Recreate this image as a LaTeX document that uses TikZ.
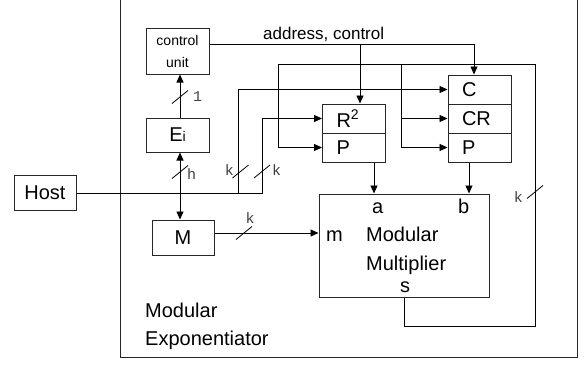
\documentclass[tikz,border=0pt]{standalone}
\usepackage{fontspec}
\setmainfont{Liberation Sans}
\newfontfamily\monof{Liberation Mono}
\usetikzlibrary{arrows.meta,calc}
\begin{document}
\begin{tikzpicture}[x=1pt,y=-1pt,
  box/.style={draw=black!85,line width=1pt,rectangle,inner sep=0pt,font=\fontsize{20}{23}\selectfont},
  stk/.style={box,minimum height=29pt,text width=35pt,inner xsep=14pt,align=left},
  frame/.style={draw=black!85,line width=1pt},
  ln/.style={line width=0.9pt},
  arr/.style={ln,-{Triangle[length=8pt,width=7pt]}},
  darr/.style={ln,{Triangle[length=8pt,width=7pt]}-{Triangle[length=8pt,width=7pt]}},
  lbl/.style={inner sep=0pt,anchor=base west,font=\fontsize{20}{23}\selectfont},
  bw/.style={font=\monof\fontsize{15}{17}\selectfont,text=black!75,inner sep=0pt},
  busmark/.pic={\draw[line width=0.8pt] (-8,6.5) -- (8,-6.5);}
]
\useasboundingbox (0,0) rectangle (584,365);
% outer frame
\draw[frame] (120,0) -- (120,357) -- (577,357) -- (577,0);

% blocks
\node[box,minimum width=62pt,minimum height=35pt] (host) at (45,193) {Host};
\node[box,minimum width=63pt,minimum height=46pt,align=center,font=\fontsize{14}{22}\selectfont] (cu) at (177.5,51) {control\\unit};
\node[box,minimum width=63pt,minimum height=34pt] (ei) at (177.5,135) {E{\fontsize{14}{16}\selectfont i}};
\node[box,minimum width=62pt,minimum height=35pt] (m) at (183,237.5) {M};
\node[stk] (r2) at (354,118.5) {R\textsuperscript{2}};
\node[stk] (p1) at (354,147.5) {P};
\node[stk] (c) at (479.5,89.5) {C};
\node[stk] (cr) at (479.5,118.5) {CR};
\node[stk] (p2) at (479.5,147.5) {P};
\node[box,minimum width=170pt,minimum height=103pt] (mm) at (404,245.5) {};
\node[lbl] (la) at (372,213) {a};
\node[lbl] (lb) at (458,213) {b};
\node[lbl] (lm) at (326,241) {m};
\node[lbl] (lmod) at (366,241) {Modular};
\node[lbl] (lmul) at (366,270) {Multiplier};
\node[lbl] (ls) at (400,292) {s};
\node[lbl] (t1l) at (145,317) {Modular};
\node[lbl] (t2l) at (145,345) {Exponentiator};

% coordinates
\coordinate (xv) at (180,0);
\coordinate (j1) at (238,193);
\coordinate (j2) at (262,193);
\coordinate (ac1) at (360,44);
\coordinate (ac2) at (474,44);
\coordinate (t1) at (278,64);
\coordinate (t2) at (401,64);
\coordinate (t3) at (535,64);
\coordinate (b3) at (535,326);
\coordinate (ax) at (374,0);
\coordinate (bx) at (469,0);
\coordinate (my) at (0,233);

% Ei <-> control unit, M
\draw[arr] (ei.north -| xv) -- (cu.south -| xv);
\draw[darr] (ei.south -| xv) -- (m.north -| xv);
\pic at (180,97) {busmark};
\node[bw,anchor=west] (l1) at (193,97) {1};
\pic at (180,172) {busmark};
\node[bw,anchor=west] (lh) at (187,174) {h};

% host bus
\draw[arr] (host.east) -- (j2) -- (j2 |- r2.west) -- (r2.west);
\draw[arr] (j1) -- (j1 |- c.west) -- (c.west);
\pic at (240.5,171.5) {busmark};
\node[bw,anchor=east] (lk1) at (234,170) {k};
\pic at (262,171.5) {busmark};
\node[bw,anchor=west] (lk2) at (272,170) {k};

% address, control
\draw[ln] (cu.east |- ac1) -- (ac2);
\draw[arr] (ac2) -- (ac2 |- c.north);
\draw[arr] (ac1) -- (ac1 |- r2.north);
\node[font=\fontsize{17}{20}\selectfont,anchor=base west,inner sep=0pt] (addr) at (263,39) {address, control};

% feedback loop
\draw[ln] (mm.south) -- (mm.south |- b3) -- (b3) -- (t3) -- (t1);
\draw[arr] (t1) -- (t1 |- p1.west) -- (p1.west);
\draw[arr] (t2) -- (t2 |- p2.west) -- (p2.west);
\draw[arr] (t2 |- cr.west) -- (cr.west);
\pic at (535,192) {busmark};
\node[bw,anchor=east] (lk3) at (523,197) {k};

% register outputs
\draw[arr] (p1.south -| ax) -- (mm.north -| ax);
\draw[arr] (p2.south -| bx) -- (mm.north -| bx);

% M to multiplier
\draw[arr] (m.east |- my) -- (mm.west |- my);
\pic at (244,233) {busmark};
\node[bw] (lk4) at (250,218) {k};
\end{tikzpicture}
\end{document}
